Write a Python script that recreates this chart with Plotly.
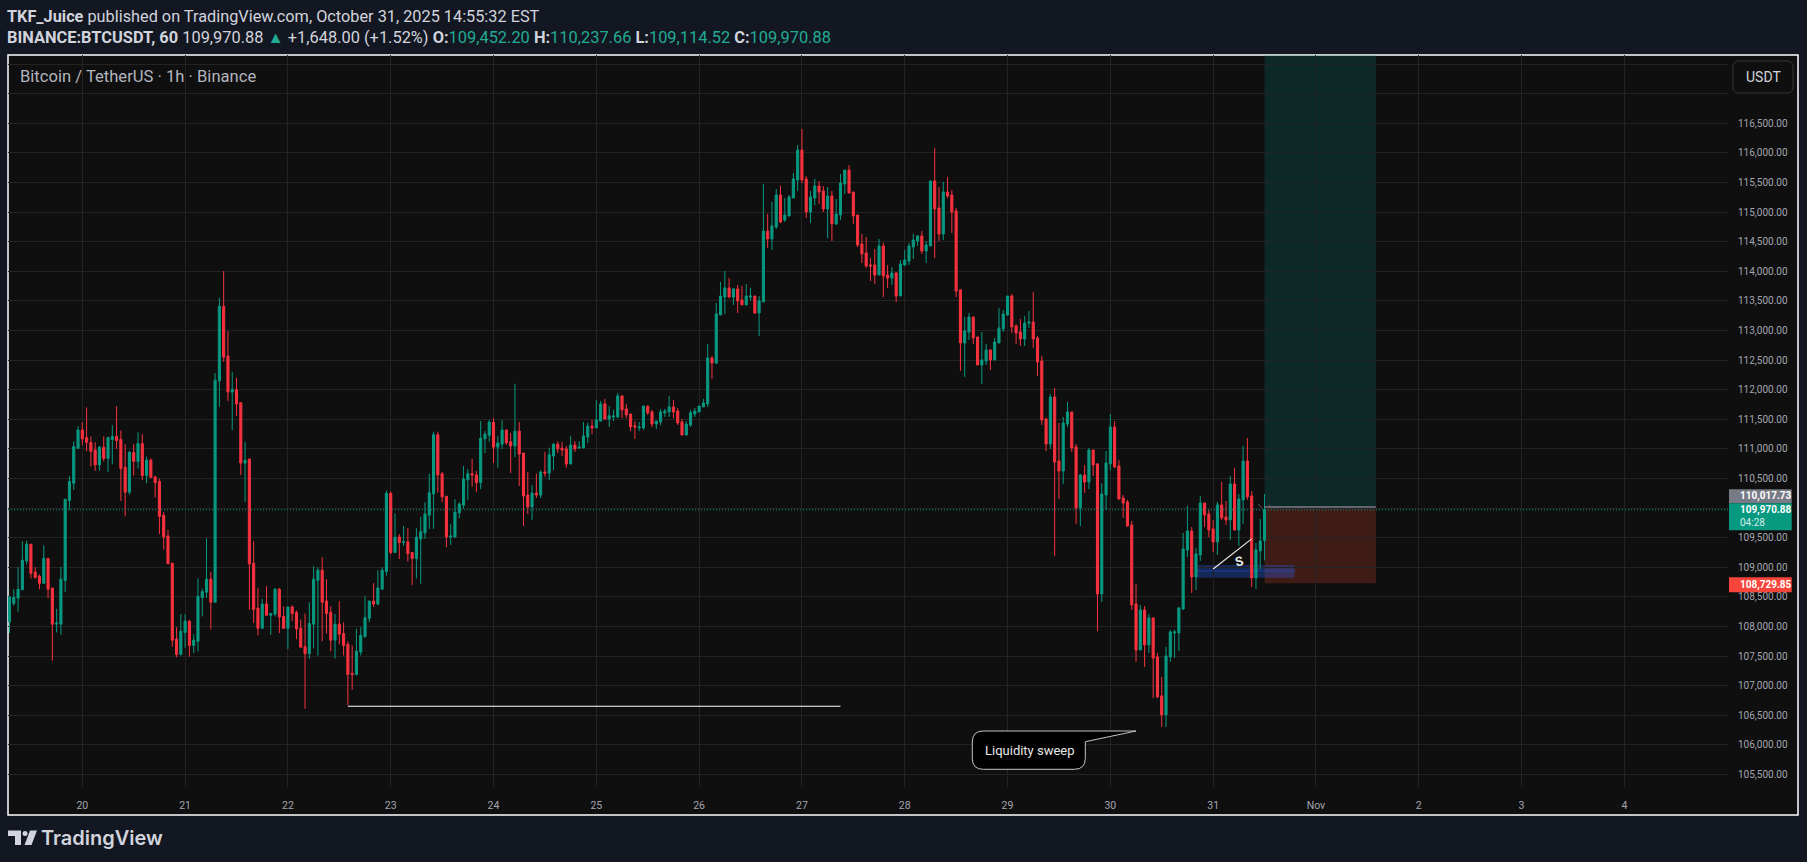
import pandas as pd
import plotly.graph_objects as go

# hourly candles
opens = [
    108080, 108390, 108480, 108620, 109110, 109390, 108920, 108850, 108730, 109150,
    108650, 108040, 108040, 108780, 110130, 110420, 111010, 111320, 111190, 111110,
    110980, 110730, 111030, 110840, 111160, 111210, 111160, 110690, 110270, 110940,
    110790, 111090, 110550, 110810, 110530, 110450, 109880, 109530, 109070, 107790,
    107530, 107900, 108090, 107680, 107750, 108490, 108580, 108800, 108410, 112150,
    113410, 112570, 111960, 112000, 111780, 110760, 110830, 109070, 108310, 107970,
    108380, 108190, 108210, 108630, 108170, 107970, 108330, 108240, 107970, 107660,
    107540, 108040, 108780, 108950, 108430, 108240, 107770, 108040, 107880, 107700,
    107210, 107190, 107570, 107830, 108140, 108430, 108380, 108630, 108930, 110250,
    109250, 109510, 109420, 109430, 109250, 109150, 109480, 109580, 109880, 110240,
    111240, 110580, 110200, 109510, 109510, 109920, 110050, 110480, 110580, 110560,
    110430, 111170, 111230, 111450, 111030, 111080, 111320, 111120, 111050, 111303,
    110930, 110220, 110020, 110255, 110220, 110610, 110590, 110880, 111080, 111015,
    111000, 110745, 111065, 111015, 111015, 111200, 111385, 111355, 111470, 111760,
    111505, 111540, 111540, 111895, 111675, 111590, 111390, 111355, 111355, 111725,
    111625, 111420, 111455, 111610, 111625, 111710, 111640, 111455, 111235, 111405,
    111590, 111625, 111710, 111760, 112536, 112450, 113263, 113566, 113720, 113566,
    113702, 113516, 113432, 113566, 113583, 113296, 113482, 114681, 114546, 114749,
    115289, 114867, 114935, 115239, 115543, 116049, 115560, 115002, 115239, 115441,
    115357, 115053, 115272, 114800, 114952, 115475, 115712, 115340, 114952, 114462,
    114310, 114107, 114107, 113938, 114428, 113938, 113887, 113972, 113583, 114107,
    114175, 114411, 114512, 114597, 114343, 114428, 115526, 115070, 114631, 115340,
    115289, 115019, 113685, 112790, 112975, 113229, 112891, 112418, 112485, 112672,
    112503, 112790, 113026, 113263, 113583, 113077, 112975, 112857, 113127, 113144,
    112874, 112485, 111505, 111083, 111877, 110796, 110627, 111421, 111624, 111032,
    110002, 110560, 110441, 110982, 110745, 108550, 110222, 110746, 111371, 110712,
    110172, 110104, 109716, 108381, 107604, 108280, 107689, 108145, 107486, 106828,
    106507, 107486, 107892, 107892, 108297, 109293, 109614, 108837, 109209, 110087,
    109902, 109648, 109429, 110054, 109851, 109800, 110408, 109631, 110138, 110797,
    110206, 108821, 109277, 109452.20,
]
highs = [
    108510, 108630, 109000, 109440, 109450, 109390, 109000, 108880, 109370, 109150,
    108650, 108300, 109010, 110150, 110540, 111130, 111390, 111450, 111700, 111210,
    111110, 111050, 111210, 111210, 111400, 111720, 111310, 111080, 110970, 111080,
    111280, 111250, 110870, 110840, 110530, 110500, 109930, 109630, 109070, 107990,
    108210, 108210, 108110, 107870, 108810, 108640, 109490, 108920, 112280, 113550,
    114005, 112990, 112300, 112200, 111780, 111120, 110830, 109440, 108650, 108470,
    108680, 108220, 108650, 108650, 108340, 108330, 108360, 108270, 108120, 108220,
    108410, 109020, 109000, 109170, 108800, 108340, 108210, 108430, 108070, 107750,
    107680, 107960, 107990, 108510, 108430, 108730, 108950, 109000, 110300, 110280,
    109910, 109560, 109700, 109660, 109250, 109660, 109850, 110100, 110580, 111290,
    111290, 110610, 110200, 109730, 110150, 110100, 110710, 110660, 110830, 110630,
    111470, 111300, 111490, 111520, 111220, 111490, 111320, 111270, 112100, 111455,
    110930, 110610, 110390, 110580, 110640, 110950, 111020, 111100, 111130, 111115,
    111050, 111220, 111130, 111130, 111455, 111440, 111490, 111825, 111810, 111845,
    111725, 111660, 111945, 111910, 111760, 111590, 111470, 111455, 111725, 111725,
    111660, 111470, 111675, 111675, 111895, 111825, 111690, 111505, 111470, 111660,
    111690, 111725, 111845, 112773, 112570, 113465, 113820, 114006, 113888, 113720,
    113770, 113752, 113786, 113720, 113583, 113583, 115475, 114968, 115171, 115391,
    115441, 115239, 115289, 115661, 116134, 116404, 115610, 115357, 115560, 115526,
    115441, 115424, 115357, 115222, 115644, 115712, 115796, 115340, 114952, 114631,
    114580, 114225, 114377, 114546, 114479, 114107, 114073, 113989, 114191, 114360,
    114479, 114631, 114614, 114681, 114512, 115526, 116083, 115424, 115509, 115593,
    115374, 115070, 113702, 113229, 113296, 113229, 112891, 112975, 112773, 112672,
    112874, 113381, 113347, 113583, 113617, 113110, 113195, 113246, 113330, 113651,
    112908, 112570, 111522, 111928, 112029, 111438, 111539, 111793, 111624, 111083,
    110577, 110729, 111016, 110982, 110762, 110419, 110966, 111590, 111472, 110814,
    110222, 110138, 109783, 108719, 108365, 108348, 108213, 108145, 107554, 107148,
    107655, 107942, 107942, 108331, 109581, 110037, 109682, 109327, 110206, 110087,
    109969, 109800, 110104, 110442, 110121, 110543, 110679, 110239, 111050, 111185,
    110290, 109412, 109817, 110237.66,
]
lows = [
    107890, 108350, 108250, 108620, 109050, 108810, 108810, 108630, 108730, 108480,
    107420, 107900, 107860, 108580, 109970, 110310, 111000, 111060, 110960, 110700,
    110630, 110630, 110790, 110610, 110740, 111000, 110120, 109860, 110230, 110550,
    110670, 110470, 110420, 110520, 110180, 109560, 109300, 109060, 107660, 107480,
    107510, 107640, 107490, 107550, 107580, 108170, 108480, 107950, 108410, 111710,
    112470, 111810, 111320, 111560, 110560, 110100, 108280, 108060, 107850, 107970,
    108190, 107860, 108170, 107890, 107960, 107620, 108090, 107790, 107650, 106610,
    107450, 107630, 107510, 107750, 107880, 107580, 107460, 107700, 107510, 106670,
    106930, 107170, 107510, 107810, 108070, 108330, 108360, 108630, 108860, 109220,
    109250, 109140, 109360, 109100, 108700, 108810, 108720, 109480, 109650, 109650,
    110260, 110100, 109340, 109380, 109510, 109830, 109990, 110140, 110360, 110270,
    110320, 110930, 111120, 110760, 110680, 111000, 111070, 110590, 110860, 110374,
    109700, 109900, 109800, 110170, 110170, 110530, 110475, 110645, 110930, 110880,
    110680, 110745, 110950, 111000, 111015, 111100, 111250, 111355, 111470, 111490,
    111370, 111470, 111520, 111520, 111520, 111300, 111170, 111300, 111320, 111575,
    111370, 111335, 111405, 111540, 111540, 111520, 111405, 111235, 111235, 111370,
    111540, 111625, 111710, 111708, 112180, 112435, 113263, 113280, 113550, 113432,
    113296, 113432, 113432, 113500, 113280, 112908, 113482, 114394, 114360, 114715,
    114816, 114833, 114935, 115239, 115357, 115492, 114901, 114816, 115120, 115137,
    115002, 114563, 114512, 114783, 114867, 115306, 115323, 114800, 114411, 114141,
    114056, 113837, 113786, 113938, 113566, 113718, 113770, 113482, 113583, 114090,
    114107, 114208, 114428, 114293, 114141, 114428, 114225, 114512, 114529, 115239,
    114648, 113566, 112317, 112215, 112840, 112773, 112418, 112097, 112418, 112334,
    112503, 112790, 112975, 113246, 112958, 112773, 112739, 112739, 113043, 112705,
    112232, 111404, 110965, 111000, 109191, 110154, 110408, 111370, 110948, 109732,
    109698, 110256, 110323, 110543, 107920, 108415, 109969, 110645, 110678, 110138,
    109834, 109682, 108280, 107402, 107604, 107317, 107554, 106794, 106794, 106304,
    106304, 107402, 107469, 107588, 108280, 109175, 108567, 108618, 109108, 109682,
    109513, 109260, 109209, 109800, 109716, 109462, 109614, 109361, 109733, 110138,
    108669, 108635, 108973, 109114.52,
]
closes = [
    108500, 108490, 108630, 109120, 109390, 108900, 108830, 108730, 109150, 108630,
    108040, 108060, 108800, 110150, 110450, 111040, 111320, 111170, 111110, 110960,
    110730, 111030, 110840, 111190, 111210, 111140, 110670, 110270, 110940, 110790,
    111090, 110550, 110810, 110520, 110430, 109860, 109510, 109060, 107770, 107530,
    107920, 108090, 107680, 107770, 108510, 108590, 108800, 108410, 112160, 113410,
    112550, 111960, 112000, 111760, 110760, 110810, 109060, 108290, 107970, 108380,
    108190, 108220, 108630, 108160, 107970, 108330, 108220, 107960, 107650, 107540,
    108050, 108800, 108950, 108410, 108220, 107770, 108040, 107870, 107680, 107190,
    107190, 107580, 107850, 108150, 108430, 108380, 108650, 108950, 110250, 109250,
    109510, 109420, 109430, 109230, 109150, 109510, 109600, 109900, 110260, 111240,
    110560, 110190, 109510, 109530, 109930, 110070, 110490, 110580, 110560, 110430,
    111180, 111250, 111450, 111030, 111100, 111320, 111100, 111050, 111300, 110914,
    110205, 110020, 110255, 110220, 110610, 110590, 110900, 111080, 111000, 110980,
    110745, 111065, 111000, 111030, 111220, 111385, 111355, 111490, 111760, 111505,
    111560, 111555, 111895, 111660, 111575, 111370, 111370, 111370, 111725, 111610,
    111420, 111470, 111625, 111640, 111710, 111625, 111440, 111235, 111420, 111610,
    111640, 111725, 111775, 112536, 112450, 113280, 113583, 113720, 113566, 113702,
    113500, 113432, 113583, 113583, 113296, 113500, 114681, 114546, 114766, 115289,
    114833, 114952, 115256, 115560, 116049, 115543, 115002, 115256, 115441, 115340,
    115053, 115272, 114800, 114968, 115492, 115712, 115323, 114935, 114445, 114293,
    114090, 114090, 113938, 114428, 113921, 113887, 113972, 113583, 114124, 114191,
    114428, 114529, 114597, 114343, 114445, 115526, 115053, 114631, 115340, 115272,
    115002, 113668, 112790, 112992, 113229, 112874, 112418, 112503, 112672, 112503,
    112807, 113043, 113280, 113583, 113060, 112958, 112857, 113127, 113144, 112857,
    112469, 111489, 111083, 111877, 110779, 110627, 111438, 111624, 111016, 110002,
    110560, 110441, 110982, 110729, 108550, 110239, 110763, 111371, 110695, 110155,
    110087, 109699, 108365, 107604, 108280, 107689, 108145, 107469, 106811, 106507,
    107503, 107909, 107909, 108314, 109310, 109614, 108837, 109226, 110087, 109885,
    109631, 109429, 110054, 109834, 109800, 110408, 109631, 110155, 110797, 110189,
    108821, 109294, 109446, 109970.88,
]
times = pd.date_range("2025-10-19 07:00", periods=len(closes), freq="h")

# axis ticks
price_ticks = list(range(105500, 118000, 500))
price_hidden = [110000, 117000, 117500]
price_labels = ["" if p in price_hidden else f"{p:,.2f}" for p in price_ticks]
day_ticks = ["2025-10-%02d" % d for d in range(20, 32)] + ["2025-11-%02d" % d for d in range(1, 5)]
day_labels = [str(d) for d in range(20, 32)] + ["Nov", "2", "3", "4"]

# drawings
last_price = 109970.88
entry_price = 110017.73
stop_price = 108729.85
target_price = 118500
sweep_price = 106653
zone_low, zone_mid, zone_high = 108825, 108940, 109040
trend_start, trend_end = 108972, 109480

GREEN = "#089981"
RED = "#f7323f"
GRID = "#232323"
TEXT = "#d1d4dc"
AXIS_TEXT = "#a3a6af"
PAPER = "#131722"
PANEL = "#0f0f0f"

# plot rectangle in pixels
W, H = 1807, 862
L, R, T, B = 8, 1728, 55, 787


def px(x):
    return (x - L) / (R - L)


def py(y):
    return (B - y) / (B - T)


def rect(x0, y0, x1, y1, **kw):
    return dict(type="rect", xref="paper", yref="paper", x0=px(x0), x1=px(x1), y0=py(y0), y1=py(y1), **kw)


def label(x, y, text, size=13, color=TEXT, anchor="left", family="Roboto", weight=None, **kw):
    return dict(xref="paper", yref="paper", x=px(x), y=py(y), text=text, showarrow=False,
                xanchor=anchor, yanchor="middle",
                font=dict(family=family, size=size, color=color, weight=weight), **kw)


def round_box(x0, y0, x1, y1, r, tip=None):
    # rounded rectangle path in paper coords, optional pointer off the top right
    pts = [f"M {px(x0 + r)} {py(y0)}"]
    if tip:
        pts.append(f"L {px(tip[0])} {py(tip[1])} L {px(x1)} {py(tip[2])}")
    else:
        pts.append(f"L {px(x1 - r)} {py(y0)} Q {px(x1)} {py(y0)} {px(x1)} {py(y0 + r)}")
    pts.append(f"L {px(x1)} {py(y1 - r)} Q {px(x1)} {py(y1)} {px(x1 - r)} {py(y1)}")
    pts.append(f"L {px(x0 + r)} {py(y1)} Q {px(x0)} {py(y1)} {px(x0)} {py(y1 - r)}")
    pts.append(f"L {px(x0)} {py(y0 + r)} Q {px(x0)} {py(y0)} {px(x0 + r)} {py(y0)} Z")
    return " ".join(pts)


fig = go.Figure(go.Candlestick(
    x=times, open=opens, high=highs, low=lows, close=closes,
    increasing=dict(line=dict(color=GREEN, width=1), fillcolor=GREEN),
    decreasing=dict(line=dict(color=RED, width=1), fillcolor=RED),
    whiskerwidth=0,
    hoverinfo="skip",
))

shapes = [
    # chart panel with white frame
    rect(8, 55, 1798, 815, fillcolor=PANEL, line=dict(color="#ffffff", width=1.5), layer="below"),
    # long position tool
    dict(type="rect", x0="2025-10-31 12:00", x1="2025-11-01 14:00", y0=entry_price, y1=target_price,
         fillcolor="rgba(0,160,150,0.18)", line=dict(width=0), layer="below"),
    dict(type="rect", x0="2025-10-31 12:00", x1="2025-11-01 14:00", y0=stop_price, y1=entry_price,
         fillcolor="rgba(255,80,50,0.2)", line=dict(width=0), layer="below"),
    dict(type="line", x0="2025-10-31 12:00", x1="2025-11-01 14:00", y0=entry_price, y1=entry_price,
         line=dict(color="#787b86", width=1.5), layer="above"),
    # blue zone
    dict(type="rect", x0="2025-10-30 20:00", x1="2025-10-31 19:00", y0=zone_low, y1=zone_high,
         fillcolor="rgba(41,98,255,0.3)", line=dict(width=0), layer="below"),
    dict(type="line", x0="2025-10-30 20:00", x1="2025-10-31 19:00", y0=zone_mid, y1=zone_mid,
         line=dict(color="rgba(41,98,255,0.4)", width=1), layer="below"),
    # last price line
    dict(type="line", xref="paper", x0=0, x1=1, y0=last_price, y1=last_price,
         line=dict(color=GREEN, width=1, dash="1px,2px"), layer="above"),
    # sweep line and trend line
    dict(type="line", x0="2025-10-22 14:00", x1="2025-10-27 09:00", y0=sweep_price, y1=sweep_price,
         line=dict(color="#ffffff", width=1.2), layer="above"),
    dict(type="line", x0="2025-10-31 00:00", x1="2025-10-31 09:00", y0=trend_start, y1=trend_end,
         line=dict(color="#e8e8e8", width=1.2), layer="above"),
    # small handles on the position tool
    dict(type="line", xref="paper", yref="paper", x0=px(1258), y0=py(504), x1=px(1262.3), y1=py(507.7),
         line=dict(color="#555", width=1), layer="above"),
    dict(type="line", xref="paper", yref="paper", x0=px(1270), y0=py(504.7), x1=px(1266), y1=py(508.3),
         line=dict(color="#555", width=1), layer="above"),
    # callout
    dict(type="path", xref="paper", yref="paper", path=round_box(972.3, 731, 1085.3, 769.3, 11, tip=(1136, 731, 741.7)),
         fillcolor="#000000", line=dict(color="#c4c4c4", width=1), layer="above"),
    # USDT button
    dict(type="path", xref="paper", yref="paper", path=round_box(1733, 61, 1793, 93, 6),
         fillcolor=PANEL, line=dict(color="#363636", width=1), layer="above"),
    # price tags
    rect(1729, 489.3, 1791.7, 503.3, fillcolor="#787b86", line=dict(width=0), layer="above"),
    rect(1729, 503.3, 1791.7, 530.3, fillcolor=GREEN, line=dict(width=0), layer="above"),
    rect(1729, 577.3, 1791.7, 592.3, fillcolor="#f7453b", line=dict(width=0), layer="above"),
    # logo
    dict(type="path", xref="paper", yref="paper",
         path=(f"M {px(8)} {py(830.5)} L {px(21)} {py(830.5)} L {px(21)} {py(845)} L {px(15)} {py(845)} "
               f"L {px(15)} {py(836)} L {px(8)} {py(836)} Z "
               f"M {px(30)} {py(830.5)} L {px(37)} {py(830.5)} L {px(31.5)} {py(845)} L {px(24.5)} {py(845)} Z"),
         fillcolor=TEXT, line=dict(width=0), layer="above"),
    dict(type="circle", xref="paper", yref="paper", x0=px(22.5), x1=px(27.5), y0=py(836), y1=py(831),
         fillcolor=TEXT, line=dict(width=0), layer="above"),
]

teal = "#22ab94"
annotations = [
    label(5, 16, "<b>TKF_Juice</b> published on TradingView.com, October 31, 2025 14:55:32 EST", size=16.3),
    label(5, 38, "<b>BINANCE:BTCUSDT, 60</b> 109,970.88 "
                 f"<span style='color:{teal}'>▲</span> +1,648.00 (+1.52%) "
                 f"<b>O:</b><span style='color:{teal}'>109,452.20</span> "
                 f"<b>H:</b><span style='color:{teal}'>110,237.66</span> "
                 f"<b>L:</b><span style='color:{teal}'>109,114.52</span> "
                 f"<b>C:</b><span style='color:{teal}'>109,970.88</span>", size=16.4),
    label(18, 76.5, "Bitcoin / TetherUS · 1h · Binance", size=16.6, color="#b2b5be"),
    label(1763, 77, "USDT", size=14, color="#d1d4dc", anchor="center"),
    label(1738, 496.3, "<b>110,017.73</b>", size=10, color="#ffffff"),
    label(1738, 510, "<b>109,970.88</b>", size=10, color="#ffffff"),
    label(1738, 522, "04:28", size=10, color="#d5efe9"),
    label(1738, 584.5, "<b>108,729.85</b>", size=10, color="#ffffff"),
    label(983, 750, "Liquidity sweep", size=13, color="#e8e8e8"),
    label(1239, 561, "<b>S</b>", size=13, color="#e8e8e8", anchor="center", textangle=-15),
    label(39, 838, "TradingView", size=20, color=TEXT, family="Inter", weight=600),
]

fig.update_layout(
    width=W, height=H,
    margin=dict(l=L, r=W - R, t=T, b=H - B, pad=0),
    paper_bgcolor=PAPER,
    plot_bgcolor="rgba(0,0,0,0)",
    showlegend=False,
    boxgap=0.3,
    shapes=shapes,
    annotations=annotations,
    xaxis=dict(
        type="date",
        range=["2025-10-19 06:39", "2025-11-05 00:12"],
        rangeslider=dict(visible=False),
        tickmode="array", tickvals=day_ticks, ticktext=day_labels,
        ticks="outside", ticklen=8, tickcolor="rgba(0,0,0,0)",
        tickfont=dict(family="Roboto", size=10.5, color=AXIS_TEXT),
        showgrid=True, gridcolor=GRID, gridwidth=1,
        zeroline=False, showline=False,
    ),
    yaxis=dict(
        side="right",
        range=[105289, 117654],
        tickmode="array", tickvals=price_ticks, ticktext=price_labels,
        ticks="outside", ticklen=7, tickcolor="rgba(0,0,0,0)",
        tickfont=dict(family="Roboto", size=10, color=AXIS_TEXT),
        showgrid=True, gridcolor=GRID, gridwidth=1,
        zeroline=False, showline=False,
    ),
)

fig.write_html("out.html", config=dict(displayModeBar=False),
               post_script="document.body.style.margin='0';document.body.style.background='#131722';")
